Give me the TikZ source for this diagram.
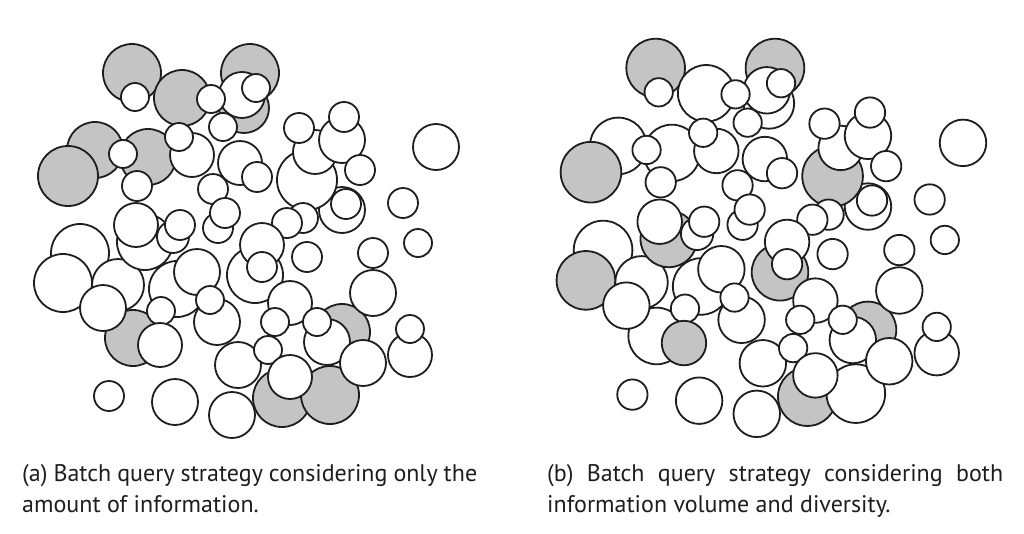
\documentclass[tikz,border=0pt]{standalone}
\usepackage{fontspec}
\setmainfont{PT Sans}
\definecolor{c0}{HTML}{FFFFFF}
\definecolor{c1}{HTML}{C4C4C4}
\definecolor{ink}{HTML}{1E1E1E}
\tikzset{
  disc/.style={draw=ink, line width=1.8pt},
  captext/.style={anchor=base west, inner sep=0pt, font=\fontsize{24}{28}\selectfont, text=ink}
}
\newcommand\circlist{
132/73/29/1/1, 182/98/28/1/0, 135/97/14/0/0, 250/73/29/1/1, 244/108/25/1/0,
242/95/23/0/0, 256/88/14/0/0, 211/99/14/0/0, 223/127/14/0/0, 95/150/28/1/0,
68/176/30/1/1, 148/157/28/1/0, 123/154/14/0/0, 192/155/22/0/0, 179/137/14/0/0,
137/186/15/0/0, 240/163/22/0/0, 257/177/15/0/0, 213/189/15/0/0, 342/210/23/0/0,
346/204/15/0/0, 307/180/30/0/1, 315/152/22/0/0, 299/128/15/0/0, 342/140/23/0/0,
344/117/15/0/0, 360/170/15/0/0, 303/218/15/0/0, 287/223/15/0/0, 436/147/23/0/0,
403/203/15/0/0, 80/253/29/0/0, 118/285/26/0/0, 63/283/29/0/1, 133/338/28/1/0,
103/308/23/0/0, 145/242/28/0/1, 136/225/22/0/0, 173/237/16/0/0, 180/225/15/0/0,
218/228/15/0/0, 225/213/15/0/0, 177/289/28/0/0, 197/272/23/0/0, 161/311/14/0/0,
160/345/22/0/1, 217/322/23/0/0, 210/300/14/0/0, 255/275/28/0/1, 262/245/22/0/0,
262/267/15/0/0, 307/257/15/0/0, 290/303/22/0/0, 275/322/14/0/0, 342/332/28/1/1,
327/342/23/0/0, 317/322/14/0/0, 238/365/23/0/0, 268/350/14/0/0, 282/398/29/1/1,
330/395/29/1/0, 290/377/22/0/0, 363/363/23/0/0, 232/415/23/0/0, 175/402/23/0/0,
109/396/15/0/0, 373/253/15/0/0, 373/293/23/0/0, 418/243/14/0/0, 410/355/22/0/0,
410/329/14/0/0}
\begin{document}
\begin{tikzpicture}[x=1pt,y=-1pt]
\useasboundingbox (0,0) rectangle (1024,533);
\fill[white] (0,0) rectangle (1024,533);
% panel (a)
\foreach \x/\y/\r/\a/\b in \circlist {
  \filldraw[disc, fill=c\a] (\x,\y) circle[radius=\r];
}
% panel (b)
\begin{scope}[shift={(522.2,-5.75)}, scale=1.011]
\foreach \x/\y/\r/\a/\b in \circlist {
  \filldraw[disc, fill=c\b] (\x,\y) circle[radius=\r];
}
\end{scope}
\node[captext] (capa1) at (22,481) {\makebox[455pt][s]{(a) Batch query strategy considering only the}};
\node[captext] (capa2) at (22,512) {amount of information.};
\node[captext] (capb1) at (547,481) {\makebox[456pt][s]{(b) Batch query strategy considering both}};
\node[captext] (capb2) at (547,512) {information volume and diversity.};
\end{tikzpicture}
\end{document}
